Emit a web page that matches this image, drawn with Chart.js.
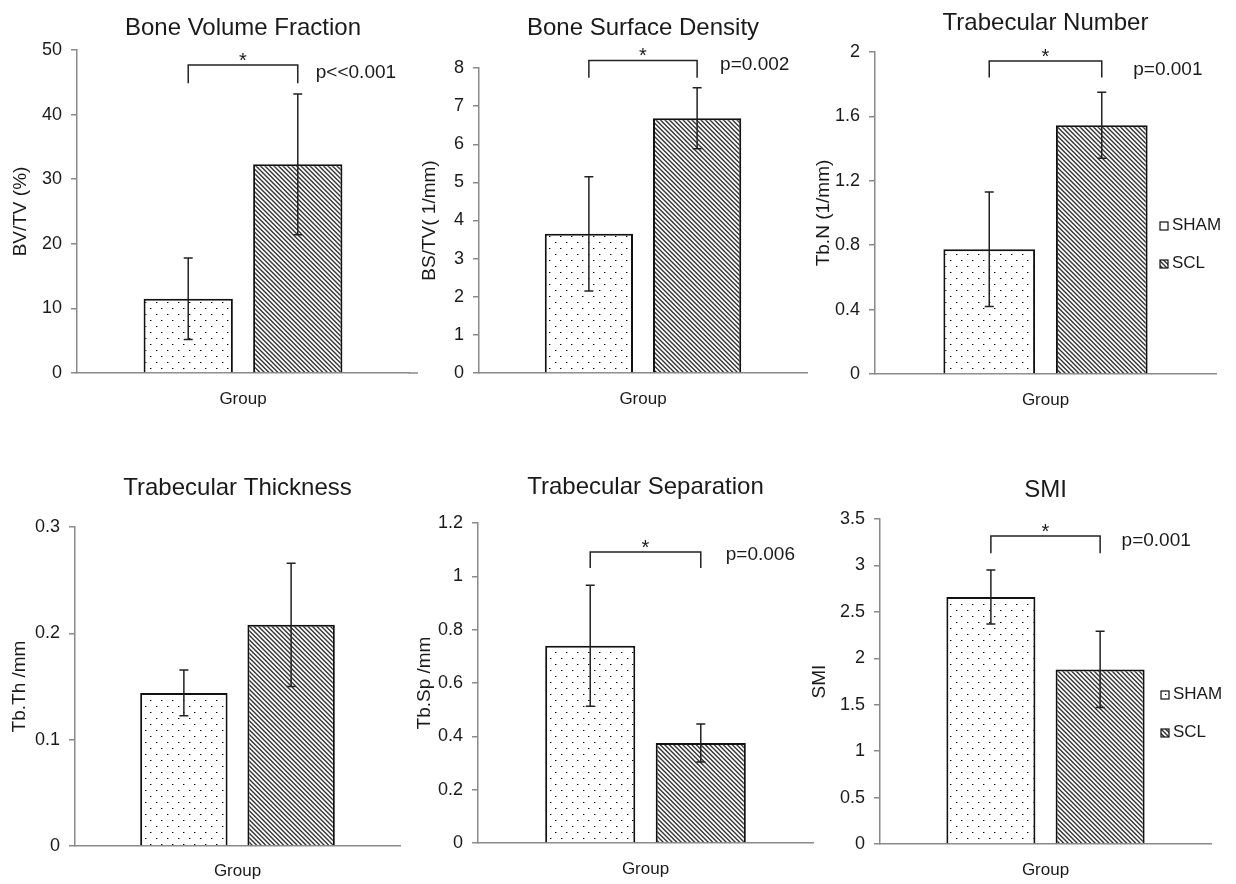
<!DOCTYPE html>
<html><head><meta charset="utf-8">
<script src="https://cdn.jsdelivr.net/npm/chart.js@4.4.0/dist/chart.umd.min.js"></script>
<style>
html,body{margin:0;padding:0;background:#fff;width:1236px;height:884px;overflow:hidden;position:relative}
canvas{position:absolute}
</style></head><body>
<canvas id="c1"></canvas><canvas id="c2"></canvas><canvas id="c3"></canvas>
<canvas id="c4"></canvas><canvas id="c5"></canvas><canvas id="c6"></canvas>
<script>
// ---------- data ----------
const categories = ['Group'];
const groups = ['SHAM', 'SCL'];

const bvtvMean = [11.5, 32.3];
const bvtvSD   = [6.3, 10.9];
const bstvMean = [3.65, 6.68];
const bstvSD   = [1.5, 0.8];
const tbnMean  = [0.775, 1.545];
const tbnSD    = [0.355, 0.205];
const tbthMean = [0.144, 0.208];
const tbthSD   = [0.0215, 0.058];
const tbspMean = [0.74, 0.375];
const tbspSD   = [0.227, 0.071];
const smiMean  = [2.66, 1.88];
const smiSD    = [0.29, 0.41];

const chartTitles = ['Bone Volume Fraction', 'Bone Surface Density', 'Trabecular Number',
                     'Trabecular Thickness', 'Trabecular Separation', 'SMI'];
const yTitles = ['BV/TV (%)', 'BS/TV( 1/mm)', 'Tb.N (1/mm)', 'Tb.Th /mm', 'Tb.Sp /mm', 'SMI'];
const yMax  = [50, 8, 2, 0.3, 1.2, 3.5];
const yStep = [10, 1, 0.4, 0.1, 0.2, 0.5];
const pLabels = ['p<<0.001', 'p=0.002', 'p=0.001', null, 'p=0.006', 'p=0.001'];
const sigMark = '*';

// ---------- styling ----------
const FONT = '"Liberation Sans", Arial, sans-serif';
const TXT = '#1a1a1a';
const AXIS = '#8a8a8a';
Chart.defaults.font.family = FONT;
Chart.defaults.color = TXT;

function dotPattern() {
  const c = document.createElement('canvas'); c.width = 11; c.height = 12;
  const g = c.getContext('2d');
  g.fillStyle = '#fff'; g.fillRect(0, 0, 11, 12);
  g.fillStyle = '#000';
  g.fillRect(2, 2, 1, 1); g.fillRect(7, 8, 1, 1);
  g.fillStyle = '#9a9a9a';
  g.fillRect(3, 2, 1, 1); g.fillRect(8, 8, 1, 1);
  return g.createPattern(c, 'repeat');
}
function hatchPattern() {
  const c = document.createElement('canvas'); c.width = 9; c.height = 9;
  const g = c.getContext('2d');
  g.fillStyle = '#fff'; g.fillRect(0, 0, 9, 9);
  g.strokeStyle = '#333'; g.lineWidth = 1.4;
  g.beginPath();
  for (let k = -18; k <= 18; k += 4.5) { g.moveTo(k, 0); g.lineTo(k + 9, 9); g.moveTo(k - 2, -2); g.lineTo(k + 11, 11); }
  g.stroke();
  return g.createPattern(c, 'repeat');
}
const fills = [dotPattern(), hatchPattern()];

const panels = [
  { id: 'c1', mean: bvtvMean, sd: bvtvSD, k: 0, cv: [0, 0, 420, 430], area: [77, 50, 409, 373], yTitlePad: 9.6, titleY: 35, xPad: 16,
    bracket: [47.67, 44.85], pY: 46.4, pDx: 18, axisExtend: 9 },
  { id: 'c2', mean: bstvMean, sd: bstvSD, k: 1, cv: [410, 0, 410, 430], area: [69, 68, 807, 373], yTitlePad: 8.6, titleY: 35, xPad: 16,
    bracket: [8.2, 7.745], pY: 8.09, pDx: 23 },
  { id: 'c3', mean: tbnMean, sd: tbnSD, k: 2, cv: [800, 0, 436, 430], area: [75, 52, 1216, 374], yTitlePad: 12, titleY: 30, xPad: 16,
    bracket: [1.944, 1.841], pY: 1.89, pDx: 31.5, legend: { x: 360, base: [230, 268] } },
  { id: 'c4', mean: tbthMean, sd: tbthSD, k: 3, cv: [0, 440, 410, 444], area: [75, 87, 400, 406], yTitlePad: 8.6, titleY: 55, xPad: 15 },
  { id: 'c5', mean: tbspMean, sd: tbspSD, k: 4, cv: [405, 440, 410, 444], area: [73, 83, 813, 403], yTitlePad: 8.1, titleY: 54, xPad: 16,
    bracket: [1.091, 1.031], pY: 1.082, pDx: 25 },
  { id: 'c6', mean: smiMean, sd: smiSD, k: 5, cv: [800, 440, 436, 444], area: [80, 79, 1211, 404], yTitlePad: 8.6, titleY: 57, xPad: 16,
    bracket: [3.317, 3.131], pY: 3.265, pDx: 21.5, legend: { x: 361, base: [259, 297] } }
];

const annotPlugin = {
  id: 'annot',
  afterDatasetsDraw(chart, args, o) {
    const ctx = chart.ctx, ys = chart.scales.y, area = chart.chartArea;
    ctx.save();
    ctx.strokeStyle = '#222'; ctx.lineWidth = 1.5;
    chart.data.datasets.forEach((ds, i) => {
      const bar = chart.getDatasetMeta(i).data[0];
      const v = ds.data[0], e = ds.errors[0];
      const yt = ys.getPixelForValue(v + e), yb = ys.getPixelForValue(v - e);
      ctx.beginPath();
      ctx.moveTo(bar.x, yt); ctx.lineTo(bar.x, yb);
      ctx.moveTo(bar.x - 4.5, yt); ctx.lineTo(bar.x + 4.5, yt);
      ctx.moveTo(bar.x - 4.5, yb); ctx.lineTo(bar.x + 4.5, yb);
      ctx.stroke();
    });
    if (o.axisExtend) {
      ctx.strokeStyle = AXIS; ctx.lineWidth = 1.5;
      ctx.beginPath(); ctx.moveTo(area.right, area.bottom); ctx.lineTo(area.right + o.axisExtend, area.bottom); ctx.stroke();
    }
    if (o.bracket) {
      const b0 = chart.getDatasetMeta(0).data[0], b1 = chart.getDatasetMeta(1).data[0];
      const yt = ys.getPixelForValue(o.bracket[0]), yb = ys.getPixelForValue(o.bracket[1]);
      ctx.strokeStyle = '#222'; ctx.lineWidth = 1.5;
      ctx.beginPath();
      ctx.moveTo(b0.x, yb); ctx.lineTo(b0.x, yt); ctx.lineTo(b1.x, yt); ctx.lineTo(b1.x, yb);
      ctx.stroke();
      ctx.fillStyle = TXT;
      ctx.font = '20px ' + FONT; ctx.textAlign = 'center'; ctx.textBaseline = 'alphabetic';
      ctx.fillText(sigMark, (b0.x + b1.x) / 2, yt + 2);
      ctx.font = '19px ' + FONT; ctx.textAlign = 'left'; ctx.textBaseline = 'middle';
      ctx.fillText(o.pText, b1.x + o.pDx, ys.getPixelForValue(o.pY));
    }
    ctx.restore();
  },
  afterDraw(chart, args, o) {
    const ctx = chart.ctx, area = chart.chartArea;
    ctx.save();
    ctx.fillStyle = TXT;
    ctx.font = '24px ' + FONT; ctx.textAlign = 'center'; ctx.textBaseline = 'alphabetic';
    ctx.fillText(o.title, (area.left + area.right) / 2, o.titleY);
    if (o.legend) {
      chart.data.datasets.forEach((ds, i) => {
        const base = o.legend.base[i];
        ctx.fillStyle = ds.backgroundColor;
        ctx.fillRect(o.legend.x, base - 8, 8, 8);
        ctx.strokeStyle = '#111'; ctx.lineWidth = 1.2;
        ctx.strokeRect(o.legend.x, base - 8, 8, 8);
        ctx.fillStyle = TXT;
        ctx.font = '17px ' + FONT; ctx.textAlign = 'left'; ctx.textBaseline = 'alphabetic';
        ctx.fillText(ds.label, o.legend.x + 12, base);
      });
    }
    ctx.restore();
  }
};

panels.forEach(p => {
  const cv = document.getElementById(p.id);
  const [L, T, W, H] = p.cv;
  cv.width = W; cv.height = H;
  cv.style.left = L + 'px'; cv.style.top = T + 'px';
  cv.style.width = W + 'px'; cv.style.height = H + 'px';
  const aLeft = p.area[0], aTop = p.area[1], aRight = p.area[2] - L, aBottom = p.area[3];
  new Chart(cv, {
    type: 'bar',
    data: {
      labels: categories,
      datasets: groups.map((g, i) => ({
        label: g, data: [p.mean[i]], errors: [p.sd[i]],
        backgroundColor: fills[i], borderColor: '#111', borderWidth: 2
      }))
    },
    options: {
      responsive: false, animation: false,
      layout: { padding: { top: aTop, right: W - aRight, left: 0, bottom: 0 } },
      categoryPercentage: 0.66, barPercentage: 0.815,
      plugins: {
        legend: { display: false }, title: { display: false }, tooltip: { enabled: false },
        annot: {
          title: chartTitles[p.k], titleY: p.titleY, bracket: p.bracket, pText: pLabels[p.k],
          pY: p.pY, pDx: p.pDx, legend: p.legend, axisExtend: p.axisExtend
        }
      },
      scales: {
        x: {
          grid: { display: false, drawTicks: false },
          border: { display: true, color: AXIS, width: 1.5 },
          ticks: { font: { size: 17 }, color: TXT, padding: p.xPad },
          afterFit: s => { s.height = H - aBottom; }
        },
        y: {
          min: 0, max: yMax[p.k],
          grid: { drawOnChartArea: false, drawTicks: true, tickLength: 6, color: AXIS, lineWidth: 1.5 },
          border: { display: true, color: AXIS, width: 1.5 },
          ticks: { stepSize: yStep[p.k], font: { size: 18 }, color: TXT, padding: 9,
                   callback: v => String(Number(v.toFixed(4))) },
          title: { display: true, text: yTitles[p.k], font: { size: 19 }, color: TXT, padding: { top: p.yTitlePad, bottom: 0 } },
          afterFit: s => { s.width = aLeft; }
        }
      }
    },
    plugins: [annotPlugin]
  });
});
</script>
</body></html>
